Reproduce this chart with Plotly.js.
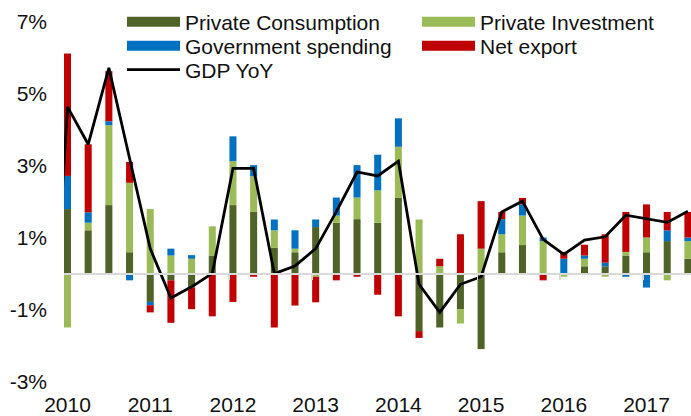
<!DOCTYPE html>
<html>
<head>
<meta charset="utf-8">
<script src="https://cdn.plot.ly/plotly-3.0.1.min.js"></script>
<style>
html, body { margin: 0; padding: 0; background: #ffffff; }
#chart { width: 691px; height: 416px; }
</style>
</head>
<body>
<div id="chart"></div>
<script>
// ---- Data (quarterly, 2010Q1 - 2017Q3), percentage points ----
const years = ['2010', '2011', '2012', '2013', '2014', '2015', '2016', '2017'];
const quarters = [
  '2010Q1','2010Q2','2010Q3','2010Q4',
  '2011Q1','2011Q2','2011Q3','2011Q4',
  '2012Q1','2012Q2','2012Q3','2012Q4',
  '2013Q1','2013Q2','2013Q3','2013Q4',
  '2014Q1','2014Q2','2014Q3','2014Q4',
  '2015Q1','2015Q2','2015Q3','2015Q4',
  '2016Q1','2016Q2','2016Q3','2016Q4',
  '2017Q1','2017Q2','2017Q3'
];
const privateConsumption = [
  1.79, 1.20, 1.90, 0.59,
  -0.79, -0.19, -0.39, 0.50,
  1.90, 1.71, 0.71, 0.59,
  1.29, 1.41, 1.51, 1.41,
  2.10, -1.60, -1.50, -0.99,
  -2.10, 0.59, 0.79, 0.00,
  0.00, 0.20, 0.20, 0.50,
  0.59, 0.90, 0.41
];
const privateInvestment = [
  -1.50, 0.21, 2.22, 1.93,
  1.79, 0.50, 0.41, 0.81,
  1.22, 0.99, 0.49, 0.10,
  -0.09, 0.20, 0.60, 0.90,
  1.42, 1.50, 0.20, -0.40,
  0.69, 0.50, 0.82, 0.90,
  -0.09, 0.21, -0.09, 0.10,
  0.41, -0.19, 0.49
];
const governmentSpending = [
  0.92, 0.29, 0.11, -0.19,
  -0.09, 0.19, 0.10, 0.00,
  0.69, 0.31, 0.30, 0.51,
  0.21, 0.50, 0.90, 0.99,
  0.79, 0.00, 0.00, 0.00,
  0.00, 0.42, 0.31, 0.10,
  0.41, 0.09, 0.10, -0.09,
  -0.39, 0.30, 0.10
];
const netExport = [
  3.40, 1.89, 1.39, 0.58,
  -0.20, -1.18, -0.60, -1.19,
  -0.79, -0.09, -1.50, -0.89,
  -0.71, -0.19, -0.09, -0.59,
  -1.19, -0.19, 0.21, 1.09,
  1.32, 0.20, 0.18, -0.19,
  0.19, 0.30, 0.79, 1.11,
  0.92, 0.51, 0.71
];
// GDP YoY, including the preceding quarter (2009Q4) whose segment enters from the left edge
const gdpQuarters = ['2009Q4'].concat(quarters);
const gdpYoY = [
  -4.7,
  4.63, 3.59, 5.71, 3.20,
  0.69, -0.68, -0.37, 0.00,
  2.92, 2.92, 0.00, 0.21,
  0.69, 1.72, 2.82, 2.71,
  3.12, -0.30, -1.08, -0.30,
  -0.09, 1.71, 2.01, 0.95,
  0.53, 0.93, 1.02, 1.62,
  1.53, 1.42, 1.73
];
const yTickVals = [7, 5, 3, 1, -1, -3];
const yTickText = ['7%', '5%', '3%', '1%', '-1%', '-3%'];
const seriesNames = ['Private Consumption', 'Private Investment', 'Government spending', 'Net export', 'GDP YoY'];

// ---- Styling ----
const colors = ['#4F6228', '#9BBB59', '#0070C0', '#C00000'];
const FONT = 'Liberation Sans, Arial, sans-serif';
const TXT = '#111111';

const xIdx = quarters.map((q, i) => i);
const gdpX = gdpQuarters.map((q, i) => i - 1);
const yearTickVals = years.map((y, k) => k * 4);
const yearMarkVals = years.map((y, k) => k * 4 - 0.18);

const xRange = [-0.17, 30.15];
const yRange = [-3.236, 7.597];
const zeroPos = (0 - yRange[0]) / (yRange[1] - yRange[0]);

// one legend per entry so the 2-column grid and row spacing follow the reference
const legendIds = ['legend', 'legend2', 'legend3', 'legend4', 'legend5'];
const legendPos = [
  { x: 0.0925, y: 0.9436 }, { x: 0.563, y: 0.9436 },
  { x: 0.0925, y: 0.882 },  { x: 0.563, y: 0.882 },
  { x: 0.0925, y: 0.8205 }
];

const barSeries = [privateConsumption, privateInvestment, governmentSpending, netExport];
const traces = [];
barSeries.forEach((vals, s) => {
  traces.push({
    type: 'bar', x: xIdx, y: vals, name: seriesNames[s],
    marker: { color: colors[s], line: { width: 0 } },
    width: 0.34, showlegend: false, hoverinfo: 'skip'
  });
});
// legend swatches (wide rectangles like the reference)
barSeries.forEach((vals, s) => {
  traces.push({
    type: 'scatter', mode: 'lines', x: [null], y: [null], name: seriesNames[s],
    line: { color: colors[s], width: 11 }, showlegend: true, legend: legendIds[s], hoverinfo: 'skip'
  });
});
traces.push({
  type: 'scatter', mode: 'lines', x: gdpX, y: gdpYoY, name: seriesNames[4],
  line: { color: '#000000', width: 2.8 }, legend: legendIds[4], hoverinfo: 'skip'
});
// helper trace for the zero-line axis
traces.push({ type: 'scatter', x: [null], y: [null], xaxis: 'x2', yaxis: 'y', showlegend: false, hoverinfo: 'skip' });

const layout = {
  width: 691, height: 416,
  margin: { l: 64, r: 0, t: 0, b: 26 },
  paper_bgcolor: '#ffffff', plot_bgcolor: '#ffffff',
  barmode: 'relative',
  font: { family: FONT, size: 21, color: TXT },
  showlegend: true,
  xaxis: {
    range: xRange, showgrid: false, zeroline: false, showline: false,
    tickmode: 'array', tickvals: yearTickVals, ticktext: years, ticks: '',
    tickfont: { family: FONT, size: 21, color: TXT }, fixedrange: true
  },
  xaxis2: {
    overlaying: 'x', anchor: 'free', position: zeroPos, range: xRange,
    showgrid: false, zeroline: false, showline: true, linecolor: '#D9D9D9', linewidth: 2,
    tickmode: 'array', tickvals: yearMarkVals, ticks: 'outside', ticklen: 5, tickwidth: 1.5,
    tickcolor: '#D9D9D9', showticklabels: false, fixedrange: true
  },
  yaxis: {
    range: yRange, showgrid: false, zeroline: false, showline: false,
    tickmode: 'array', tickvals: yTickVals, ticktext: yTickText, ticks: '',
    ticklabelstandoff: 16, tickfont: { family: FONT, size: 21, color: TXT }, fixedrange: true
  }
};
legendIds.forEach((id, k) => {
  layout[id] = {
    orientation: 'h', x: legendPos[k].x, xanchor: 'left', y: legendPos[k].y, yanchor: 'middle',
    itemwidth: 53, bgcolor: 'rgba(0,0,0,0)', borderwidth: 0,
    font: { family: FONT, size: 21, color: TXT }, itemclick: false, itemdoubleclick: false
  };
});

Plotly.newPlot('chart', traces, layout, { displayModeBar: false, staticPlot: true });
</script>
</body>
</html>
